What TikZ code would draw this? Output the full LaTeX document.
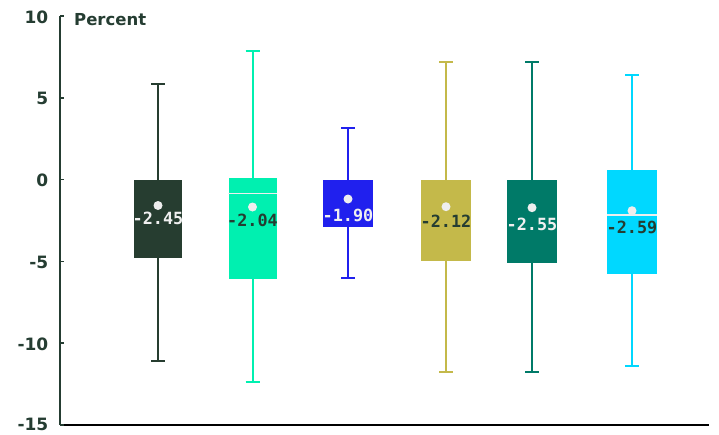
\documentclass[tikz,border=0pt]{standalone}
\usepackage{fontspec}
\setmainfont{DejaVu Sans}
\newfontfamily\axisfont{DejaVu Sans}
\newfontfamily\valfont{DejaVu Sans Mono}
\definecolor{ink}{HTML}{253D32}
\definecolor{baseline}{HTML}{6E7E76}
\definecolor{cA}{HTML}{263D30}
\definecolor{cB}{HTML}{00F0B0}
\definecolor{cC}{HTML}{2020EE}
\definecolor{cD}{HTML}{C4B94A}
\definecolor{cE}{HTML}{007A68}
\definecolor{cF}{HTML}{00D8FF}
\definecolor{dotc}{HTML}{EEEEEE}
\definecolor{lite}{HTML}{F0F0F0}
\begin{document}
\begin{tikzpicture}[x=1pt,y=-1pt,
  ticklab/.style={font=\axisfont\bfseries\fontsize{17}{18}\selectfont, text=ink, anchor=east, inner sep=0pt},
  boxbody/.style={rectangle, inner sep=0pt, draw=none},
  whisk/.style={line width=2pt},
  meandot/.style={circle, fill=dotc, inner sep=0pt, minimum size=9pt},
  vallab/.style={font=\valfont\bfseries\fontsize{16.8}{18}\selectfont, inner sep=0pt},
  medline/.style={line width=1.5pt, draw=dotc}]
\useasboundingbox (0,0) rectangle (719,434);
% axes
\coordinate (ytop) at (60,16);
\coordinate (ybot) at (60,425);
\coordinate (xend) at (709,425);
\draw[ink, line width=1.5pt] (ytop) -- (ybot);
\draw[baseline, line width=2pt] (ybot) -- (xend);
\foreach \v/\yy in {10/17, 5/98.8, 0/180.6, -5/262.4, -10/344.2, -15/424.2}{
  \node[ticklab] (lab\v) at (48.5,\yy) {\v};
}
\foreach \v/\yy in {10/16, 5/97.8, 0/179.6, -5/261.4, -10/343.2, -15/425}{
  \coordinate (t\v) at (60,\yy);
  \coordinate (te\v) at (64,\yy);
  \draw[ink, line width=1.5pt] (t\v) -- (te\v);
}
\node[font=\axisfont\bfseries\fontsize{16.5}{18}\selectfont, text=ink, anchor=west, inner sep=0pt] (unit) at (74,19.5) {Percent};
% boxes: name/color/xc/width/top/bottom/whisktop/whiskbot/doty/label/laby/labcolor
\foreach \n/\c/\xc/\w/\t/\b/\wt/\wb/\dy/\lab/\ly/\lc in {
  A/cA/158/48/180/258/84/361/205.5/-2.45/218/lite,
  B/cB/252.5/48/178/278.5/50.7/381.7/207/-2.04/220.3/ink,
  C/cC/348/50/180/227/128.3/278/199/-1.90/215/lite,
  D/cD/446/50/180/261/62/372/206.7/-2.12/221.7/ink,
  E/cE/532/50/180/263/62/372/207.7/-2.55/224.7/lite,
  F/cF/632/50/170/273.5/74.7/366/210.7/-2.59/227.7/ink}{
  \coordinate (wt\n) at (\xc,\wt);
  \coordinate (wb\n) at (\xc,\wb);
  \draw[\c, whisk] (wt\n) -- (wb\n);
  \draw[\c, whisk] ([xshift=-7pt]wt\n) -- ([xshift=7pt]wt\n);
  \draw[\c, whisk] ([xshift=-7pt]wb\n) -- ([xshift=7pt]wb\n);
  \node[boxbody, fill=\c, minimum width=\w pt, minimum height={(\b-\t)*1pt}] (box\n) at (\xc,{(\t+\b)/2}) {};
  \node[meandot] (dot\n) at (\xc,\dy) {};
  \node[vallab, text=\lc] (val\n) at (\xc,\ly) {\lab};
}
% median lines
\draw[medline] ([yshift=-15.5pt]boxB.north west) -- ([yshift=-15.5pt]boxB.north east);
\draw[medline] ([yshift=-45pt]boxF.north west) -- ([yshift=-45pt]boxF.north east);
\end{tikzpicture}
\end{document}
